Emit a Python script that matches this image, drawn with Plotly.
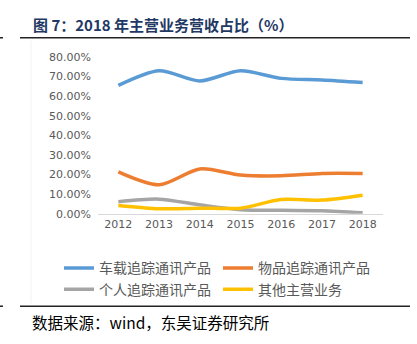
import plotly.graph_objects as go

W, H = 417, 344
years = ["2012", "2013", "2014", "2015", "2016", "2017", "2018"]
vehicle = [65.5, 73.0, 67.8, 73.0, 69.1, 68.3, 67.0]
goods = [21.4, 14.8, 22.9, 19.8, 19.4, 20.6, 20.6]
personal = [6.2, 7.5, 4.6, 2.1, 1.8, 1.6, 0.5]
other = [4.3, 2.6, 2.9, 2.9, 7.3, 7.0, 9.5]

names = ["车载追踪通讯产品", "物品追踪通讯产品", "个人追踪通讯产品", "其他主营业务"]
colors = ["#5B9BD5", "#ED7D31", "#A5A5A5", "#FFC000"]
series = [vehicle, goods, personal, other]

fig = go.Figure()
for n, c, s in zip(names, colors, series):
    fig.add_trace(go.Scatter(x=years, y=s, name=n, mode="lines",
                             line=dict(color=c, width=3.5, shape="spline", smoothing=0.8)))

def px(x):
    return x / W

def py(y):
    return 1 - y / H

fig.update_layout(
    width=W, height=H,
    margin=dict(l=0, r=0, t=0, b=0),
    paper_bgcolor="white", plot_bgcolor="white",
    showlegend=True,
    legend=dict(orientation="h", x=px(59), y=py(256), xanchor="left", yanchor="top",
                xref="paper", yref="paper",
                font=dict(family="Noto Sans CJK SC", size=14, color="#595959"),
                entrywidth=114, entrywidthmode="pixels", itemwidth=30,
                tracegroupgap=0, bgcolor="rgba(0,0,0,0)"),
    xaxis=dict(domain=[px(98), px(383)], type="category", range=[-0.5, 6.5],
               showline=True, linecolor="#D9D9D9", linewidth=1, showgrid=False,
               ticks="", tickfont=dict(family="DejaVu Sans", size=11, color="#595959")),
    yaxis=dict(domain=[py(216), py(53)], range=[0, 80], dtick=10, showgrid=False,
               zeroline=False, ticksuffix="%", tickformat=".2f",
               tickfont=dict(family="DejaVu Sans", size=11, color="#595959"),
               ticks="", ticklabelstandoff=6),
)

fig.add_annotation(text="<b>图 7：2018 年主营业务营收占比（%）</b>", x=px(31), y=py(19),
                   xref="paper", yref="paper", xanchor="left", yanchor="middle", showarrow=False,
                   font=dict(family="Noto Sans CJK SC", size=15, color="#1F3864"))
fig.add_annotation(text="数据来源：wind，东吴证券研究所", x=px(30), y=py(328),
                   xref="paper", yref="paper", xanchor="left", yanchor="middle", showarrow=False,
                   font=dict(family="Noto Sans CJK SC", size=15.5, color="#000000"))

for yy in (33, 312):
    fig.add_shape(type="line", xref="paper", yref="paper", x0=px(20), x1=px(410),
                  y0=py(yy), y1=py(yy), line=dict(color="#222222", width=1.5))
    fig.add_shape(type="line", xref="paper", yref="paper", x0=0, x1=px(3),
                  y0=py(yy), y1=py(yy), line=dict(color="#222222", width=1.5))
fig.add_shape(type="line", xref="paper", yref="paper", x0=px(31), x1=px(31),
              y0=py(36), y1=py(309), line=dict(color="#F2F2F2", width=1))

fig.write_html("out.html")
